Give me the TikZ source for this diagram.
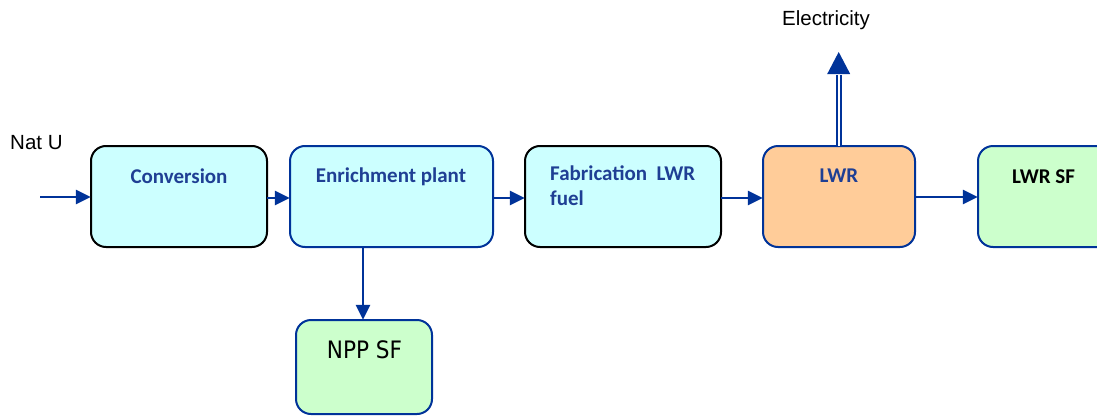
\documentclass[tikz,border=0pt]{standalone}
\usepackage{fontspec}
\setmainfont{Liberation Sans}
\newfontfamily\calfont{Carlito}
\newfontfamily\npfont[FakeStretch=0.9]{DejaVu Sans}
\usetikzlibrary{arrows.meta}
\definecolor{arrblue}{HTML}{003399}
\definecolor{txtblue}{HTML}{1F3F94}
\definecolor{fcyan}{HTML}{CCFFFF}
\definecolor{forange}{HTML}{FFCC99}
\definecolor{fgreen}{HTML}{CCFFCC}
\tikzset{
  box/.style={draw, line width=2pt, rounded corners=15pt, inner sep=0pt},
  boxtxt/.style={inner sep=0pt, anchor=base, font=\calfont\bfseries\fontsize{21}{25}\selectfont, text=txtblue},
  flow/.style={draw=arrblue, line width=2.5pt, -{Triangle[length=15pt,width=14pt]}},
  plain/.style={inner sep=0pt, anchor=base, font=\fontsize{20.5}{24}\selectfont},
}
\begin{document}
\begin{tikzpicture}[x=1pt,y=-1pt]
\useasboundingbox (0,0) rectangle (1097,415);
\begin{scope}
\clip (0,0) rectangle (1097,415);
% boxes
\draw[box, draw=black, fill=fcyan] (91,146) rectangle (267,247);
\node[inner sep=0pt, minimum width=176pt, minimum height=101pt] (conv) at (179,196.5) {};
\draw[box, draw=arrblue, fill=fcyan] (290,146) rectangle (493,247);
\node[inner sep=0pt, minimum width=203pt, minimum height=101pt] (enr) at (391.5,196.5) {};
\draw[box, draw=black, fill=fcyan] (525,146) rectangle (721,247);
\node[inner sep=0pt, minimum width=196pt, minimum height=101pt] (fab) at (623,196.5) {};
\draw[box, draw=arrblue, fill=forange] (763,146) rectangle (915,247);
\node[inner sep=0pt, minimum width=152pt, minimum height=101pt] (lwr) at (839,196.5) {};
\draw[box, draw=arrblue, fill=fgreen] (978,146) rectangle (1130,247);
\node[inner sep=0pt, minimum width=152pt, minimum height=101pt] (lwrsf) at (1054,196.5) {};
\draw[box, draw=arrblue, fill=fgreen] (296,320) rectangle (432,414);
\node[inner sep=0pt, minimum width=136pt, minimum height=94pt] (npp) at (364,367) {};
\end{scope}
% texts
\node[boxtxt] (tconv) at (179,183) {Conversion};
\node[boxtxt] (tenr) at (391,182) {Enrichment plant};
\node[boxtxt, anchor=base west] (tfab1) at (550,180) {Fabrication\hspace{0.22em} LWR};
\node[boxtxt, anchor=base west] (tfab2) at (550,205) {fuel};
\node[boxtxt] (tlwr) at (839,182) {LWR};
\node[boxtxt, text=black] (tlwrsf) at (1043.5,183) {LWR SF};
\node[plain, font=\npfont\fontsize{24}{27}\selectfont] (tnpp) at (364.5,358) {NPP SF};
\node[plain, anchor=base west] (natu) at (10,149) {Nat U};
\node[plain] (elect) at (826,25) {Electricity};
% connectors
\coordinate (natstart) at (40,197);
\draw[flow] (natstart) -- (conv.west |- natstart);
\draw[flow] (conv.east |- 0,198) -- (enr.west |- 0,198);
\draw[flow] (enr.east |- 0,198) -- (fab.west |- 0,198);
\draw[flow] (fab.east |- 0,198) -- (lwr.west |- 0,198);
\draw[flow] (lwr.east |- 0,197) -- (lwrsf.west |- 0,197);
\draw[flow] (enr.south -| 363,0) -- (npp.north -| 363,0);
% electricity double arrow
\coordinate (elbase) at (838.7,74);
\coordinate (eltip) at (838.7,52);
\draw[draw=arrblue, line width=1.9pt, double=white, double distance=2.2pt] (lwr.north -| elbase) -- ([yshift=-1pt]elbase);
\fill[arrblue] (eltip) -- ([xshift=11.5pt]elbase) -- ([xshift=-11.5pt]elbase) -- cycle;
\end{tikzpicture}
\end{document}
